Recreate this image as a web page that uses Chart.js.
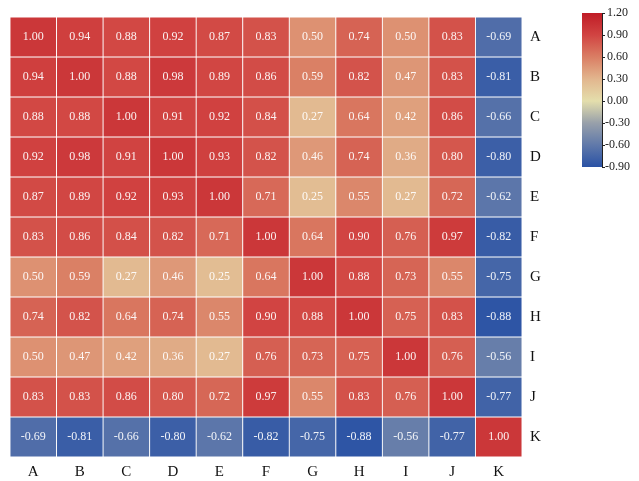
<!DOCTYPE html>
<html>
<head>
<meta charset="utf-8">
<script src="https://cdn.jsdelivr.net/npm/chart.js@4.4.1/dist/chart.umd.min.js"></script>
<style>
  html, body { margin: 0; padding: 0; background: #fff; }
  #wrap { width: 639px; height: 481px; }
</style>
</head>
<body>
<div id="wrap"><canvas id="heat"></canvas></div>
<script>
const labels = ["A","B","C","D","E","F","G","H","I","J","K"];
const rowA = [1.00, 0.94, 0.88, 0.92, 0.87, 0.83, 0.50, 0.74, 0.50, 0.83, -0.69];
const rowB = [0.94, 1.00, 0.88, 0.98, 0.89, 0.86, 0.59, 0.82, 0.47, 0.83, -0.81];
const rowC = [0.88, 0.88, 1.00, 0.91, 0.92, 0.84, 0.27, 0.64, 0.42, 0.86, -0.66];
const rowD = [0.92, 0.98, 0.91, 1.00, 0.93, 0.82, 0.46, 0.74, 0.36, 0.80, -0.80];
const rowE = [0.87, 0.89, 0.92, 0.93, 1.00, 0.71, 0.25, 0.55, 0.27, 0.72, -0.62];
const rowF = [0.83, 0.86, 0.84, 0.82, 0.71, 1.00, 0.64, 0.90, 0.76, 0.97, -0.82];
const rowG = [0.50, 0.59, 0.27, 0.46, 0.25, 0.64, 1.00, 0.88, 0.73, 0.55, -0.75];
const rowH = [0.74, 0.82, 0.64, 0.74, 0.55, 0.90, 0.88, 1.00, 0.75, 0.83, -0.88];
const rowI = [0.50, 0.47, 0.42, 0.36, 0.27, 0.76, 0.73, 0.75, 1.00, 0.76, -0.56];
const rowJ = [0.83, 0.83, 0.86, 0.80, 0.72, 0.97, 0.55, 0.83, 0.76, 1.00, -0.77];
const rowK = [-0.69, -0.81, -0.66, -0.80, -0.62, -0.82, -0.75, -0.88, -0.56, -0.77, 1.00];
const rows = [rowA, rowB, rowC, rowD, rowE, rowF, rowG, rowH, rowI, rowJ, rowK];
const cbTicks = [1.20, 0.90, 0.60, 0.30, 0.00, -0.30, -0.60, -0.90];

// colour ramp blue -> pale yellow -> red
const stops = [
  [-0.9, [42, 82, 165]],
  [-0.6, [96, 121, 170]],
  [-0.3, [152, 160, 170]],
  [0.0, [228, 222, 172]],
  [0.3, [226, 182, 142]],
  [0.6, [218, 126, 100]],
  [0.9, [209, 68, 66]],
  [1.2, [192, 28, 38]]
];
function colorFor(v) {
  if (v <= stops[0][0]) return "rgb(" + stops[0][1].join(",") + ")";
  for (let i = 1; i < stops.length; i++) {
    if (v <= stops[i][0]) {
      const a = stops[i - 1], b = stops[i];
      const t = (v - a[0]) / (b[0] - a[0]);
      const c = a[1].map((x, k) => Math.round(x + (b[1][k] - x) * t));
      return "rgb(" + c.join(",") + ")";
    }
  }
  return "rgb(" + stops[stops.length - 1][1].join(",") + ")";
}

const datasets = rows.map((vals, r) => ({
  label: labels[r],
  data: vals.map(() => [r, r + 1]),
  values: vals,
  backgroundColor: vals.map(colorFor),
  borderColor: "rgba(255,255,255,0.75)",
  borderWidth: 0.8,
  borderSkipped: false,
  barPercentage: 1,
  categoryPercentage: 1,
  grouped: false
}));

const cellText = {
  id: "cellText",
  afterDatasetsDraw(chart) {
    const ctx = chart.ctx;
    ctx.save();
    ctx.font = "12px 'Liberation Serif', serif";
    ctx.fillStyle = "rgba(255,255,255,0.92)";
    ctx.textAlign = "center";
    ctx.textBaseline = "middle";
    chart.data.datasets.forEach((ds, di) => {
      chart.getDatasetMeta(di).data.forEach((bar, i) => {
        const p = bar.getProps(["x", "y", "base"], true);
        ctx.fillText(ds.values[i].toFixed(2), p.x, (p.y + p.base) / 2);
      });
    });
    ctx.restore();
  }
};

const colorBar = {
  id: "colorBar",
  afterDraw(chart) {
    const ctx = chart.ctx;
    const x0 = 582, x1 = 602, y0 = 13, y1 = 167;
    const lo = -0.9, hi = 1.2;
    const g = ctx.createLinearGradient(0, y1, 0, y0);
    stops.forEach(s => g.addColorStop((s[0] - lo) / (hi - lo), "rgb(" + s[1].join(",") + ")"));
    ctx.save();
    ctx.fillStyle = g;
    ctx.fillRect(x0, y0, x1 - x0, y1 - y0);
    ctx.strokeStyle = "#222";
    ctx.lineWidth = 1;
    ctx.beginPath();
    ctx.moveTo(x1 + 0.5, y0);
    ctx.lineTo(x1 + 0.5, y1);
    ctx.stroke();
    ctx.font = "12px 'Liberation Serif', serif";
    ctx.fillStyle = "#222";
    ctx.textAlign = "left";
    ctx.textBaseline = "middle";
    cbTicks.forEach(t => {
      const y = y1 - (t - lo) / (hi - lo) * (y1 - y0);
      ctx.beginPath();
      ctx.moveTo(x1, Math.round(y) + 0.5);
      ctx.lineTo(x1 + 3, Math.round(y) + 0.5);
      ctx.stroke();
      ctx.fillText(t.toFixed(2), t < 0 ? x1 + 3 : x1 + 5, y);
    });
    ctx.restore();
  }
};

new Chart(document.getElementById("heat"), {
  type: "bar",
  data: { labels: labels, datasets: datasets },
  options: {
    responsive: true,
    maintainAspectRatio: false,
    animation: false,
    layout: { padding: { left: 10, top: 13, right: 0, bottom: 0 } },
    plugins: { legend: { display: false }, tooltip: { enabled: false } },
    scales: {
      x: {
        grid: { display: false, drawTicks: false },
        border: { display: false },
        ticks: { color: "#111", padding: 6, font: { family: "'Liberation Serif', serif", size: 15 } },
        afterFit(s) { s.height = 24; }
      },
      y: {
        display: false,
        min: 0,
        max: 11,
        reverse: true
      },
      yLab: {
        type: "category",
        labels: labels,
        position: "right",
        offset: true,
        grid: { display: false, drawTicks: false },
        border: { display: false },
        ticks: { color: "#111", padding: 8, font: { family: "'Liberation Serif', serif", size: 15 } },
        afterFit(s) { s.width = 117; }
      }
    }
  },
  plugins: [cellText, colorBar]
});
</script>
</body>
</html>
